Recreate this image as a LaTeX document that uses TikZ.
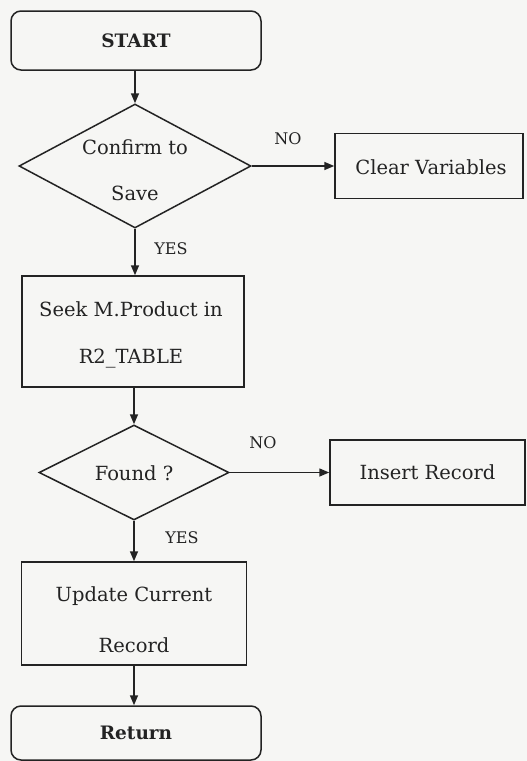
\documentclass[tikz,border=0pt]{standalone}
\usepackage{fontspec}
\setmainfont{DejaVu Serif}
\usetikzlibrary{shapes.geometric,arrows.meta}
\definecolor{ink}{RGB}{35,35,35}
\definecolor{paper}{RGB}{246,246,244}
\begin{document}
\begin{tikzpicture}[x=1pt,y=-1pt,
  every node/.style={text=ink},
  terminal/.style={draw=ink,line width=1.5pt,rounded corners=10pt,inner sep=0pt,font=\fontsize{18.5}{22}\selectfont\bfseries},
  procbox/.style={draw=ink,line width=1.5pt,inner sep=0pt},
  decision/.style={draw=ink,line width=1.5pt,diamond,inner sep=0pt},
  txt/.style={inner sep=0pt,font=\fontsize{19.5}{23}\selectfont},
  lbl/.style={inner sep=0pt,font=\fontsize{16}{19}\selectfont},
  arr/.style={draw=ink,line width=1.5pt,-{Triangle[length=10pt,width=8pt]}}]
\fill[paper] (0,0) rectangle (527,761);
\useasboundingbox (0,0) rectangle (527,761);
% main column
\node[terminal,minimum width=250pt,minimum height=59pt] (start) at (136,40.5) {START};
\node[decision,minimum width=232pt,minimum height=124pt] (d1) at (135,166) {};
\node[txt] (d1a) at (135,147) {Confirm to};
\node[txt] (d1b) at (135,193) {Save};
\node[procbox,minimum width=188pt,minimum height=65pt] (clear) at (429,166) {};
\node[txt] (cleart) at (431,167) {Clear Variables};
\node[procbox,minimum width=222pt,minimum height=111pt] (seek) at (133,331.5) {};
\node[txt] (seeka) at (131,309) {Seek M.Product in};
\node[txt] (seekb) at (131,359) {R2\_TABLE};
\node[decision,minimum width=190pt,minimum height=95pt] (d2) at (134,472.5) {};
\node[txt] (d2t) at (134,473) {Found ?};
\node[procbox,minimum width=195pt,minimum height=65pt] (ins) at (427.5,472.5) {};
\node[txt] (inst) at (427.5,472) {Insert Record};
\node[procbox,minimum width=225pt,minimum height=103pt] (upd) at (134,613.5) {};
\node[txt] (upda) at (134,596) {Update Current};
\node[txt] (updb) at (134,645) {Record};
\node[terminal,minimum width=250pt,minimum height=54pt] (ret) at (136,733) {Return};
% labels
\node[lbl] (no1) at (288,139) {NO};
\node[lbl] (yes1) at (171,249) {YES};
\node[lbl] (no2) at (263,443) {NO};
\node[lbl] (yes2) at (182,538) {YES};
% connectors
\draw[arr] (start.south -| d1.north) -- (d1.north);
\draw[arr] (d1.east) -- (clear.west);
\draw[arr] (d1.south) -- (d1.south |- seek.north);
\draw[arr] (seek.south -| d2.north) -- (d2.north);
\draw[arr] (d2.east) -- (ins.west);
\draw[arr] (d2.south) -- (upd.north);
\draw[arr] (upd.south) -- (upd.south |- ret.north);
\end{tikzpicture}
\end{document}
